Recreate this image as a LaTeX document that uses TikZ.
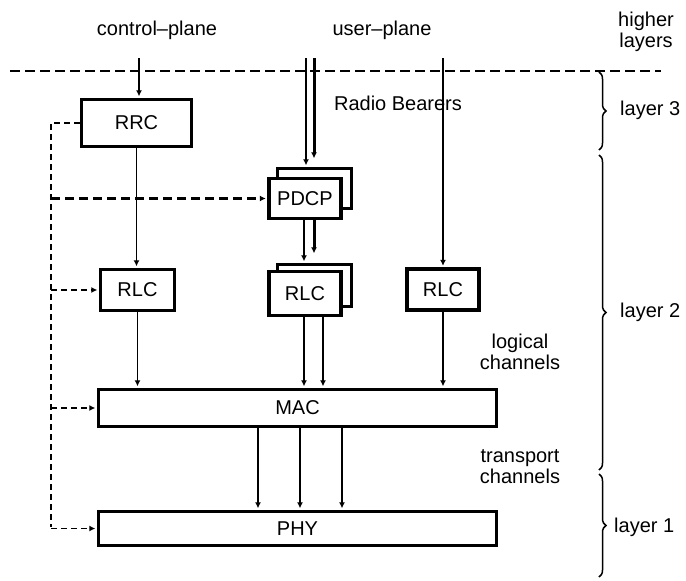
\documentclass[tikz,border=0pt]{standalone}
\usepackage{fontspec}
\setmainfont{Liberation Sans}
\usetikzlibrary{arrows.meta,decorations.pathreplacing,calc}
\begin{document}
\begin{tikzpicture}[x=1pt,y=-1pt,
  txt/.style={font=\fontsize{20}{21}\selectfont},
  box/.style={draw,line width=3.2pt,fill=white,inner sep=0pt,txt},
  lbl/.style={txt,inner sep=0pt,align=center},
  conn/.style={line width=1.7pt,shorten >=1.6pt,-{Latex[length=6pt,width=6pt]}},
  ctl/.style={line width=1.3pt,dash pattern=on 6pt off 4pt,shorten >=1.6pt,-{Latex[length=6pt,width=6pt]}},
  br/.style={decorate,decoration={brace,amplitude=7pt},line width=1.5pt}]
\useasboundingbox (0,0) rectangle (686,581);

% labels
\node[lbl] (cplane) at (157,30) {control–plane};
\node[lbl] (uplane) at (382,30) {user–plane};
\node[lbl] (higher) at (646,32) {higher\\layers};
\node[lbl] (rb) at (398,103) {Radio Bearers};
\node[lbl] (logic) at (520,352) {logical\\channels};
\node[lbl] (trans) at (520,467) {transport\\channels};
\node[lbl,anchor=west] (l3) at (620,110) {layer 3};
\node[lbl,anchor=west] (l2) at (620,312) {layer 2};
\node[lbl,anchor=west] (l1) at (614,527) {layer 1};

% top boundary
\draw[line width=1.5pt,dash pattern=on 10pt off 5pt] (10,71) -- (661,71);

% boxes
\node[box,minimum width=110pt,minimum height=47pt] (rrc) at (136.5,123) {RRC};
\node[box,minimum width=74pt,minimum height=40pt] (pdcpb) at (314.5,188.5) {};
\node[box,minimum width=72pt,minimum height=40pt] (pdcp) at (305,198.5) {PDCP};
\node[box,minimum width=74pt,minimum height=41pt] (rlc1) at (137.5,290) {RLC};
\node[box,minimum width=74pt,minimum height=42pt] (rlc2b) at (314.5,285.5) {};
\node[box,minimum width=72pt,minimum height=44pt] (rlc2) at (305,293.5) {RLC};
\node[box,minimum width=72pt,minimum height=41pt] (rlc3) at (443,289.5) {RLC};
\node[box,minimum width=398pt,minimum height=37pt] (mac) at (297.5,408) {MAC};
\node[box,minimum width=398pt,minimum height=34pt] (phy) at (297.5,528.5) {PHY};

% entry points
\coordinate (cpt) at (139,58);
\coordinate (up1) at (306,58);
\coordinate (up2) at (314,58);
\coordinate (rbt) at (443,58);
\coordinate (cv) at (51,121);

% data flows
\draw[conn] (cpt) -- (cpt |- rrc.north);
\draw[conn,line width=1.3pt] (up1) -- (up1 |- pdcpb.north);
\draw[conn,line width=3pt] (up2) -- ($(up2 |- pdcpb.north)+(0,-7)$);
\draw[conn] (rbt) -- (rbt |- rlc3.north);
\draw[conn] (rrc.south) -- (rrc.south |- rlc1.north);
\draw[conn] (rlc1.south) -- (rlc1.south |- mac.north);
\draw[conn,line width=1.3pt] ($(pdcp.south)+(-1,0)$) -- ($(pdcp.south |- rlc2b.north)+(-1,0)$);
\draw[conn,line width=3pt] ($(pdcp.south)+(9,0)$) -- ($(pdcp.south |- rlc2b.north)+(9,-8)$);
\draw[conn] ($(rlc2.south)+(-1,0)$) -- ($(rlc2.south |- mac.north)+(-1,0)$);
\draw[conn] ($(rlc2.south)+(18,0)$) -- ($(rlc2.south |- mac.north)+(18,0)$);
\draw[conn] (rlc3.south) -- (rlc3.south |- mac.north);
\draw[conn] ($(mac.south)+(-39.5,0)$) -- ($(mac.south |- phy.north)+(-39.5,0)$);
\draw[conn] ($(mac.south)+(2.5,0)$) -- ($(mac.south |- phy.north)+(2.5,0)$);
\draw[conn] ($(mac.south)+(44.5,0)$) -- ($(mac.south |- phy.north)+(44.5,0)$);

% control
\draw[ctl,-] (rrc.west) -- (cv |- rrc.west) -- (cv |- phy.west);
\draw[ctl] (cv |- phy.west) -- (phy.west);
\draw[ctl] (cv |- mac.west) -- (mac.west);
\draw[ctl] (cv |- rlc1.west) -- (rlc1.west);
\draw[ctl,line width=3pt,dash pattern=on 9pt off 5pt] (cv |- pdcp.west) -- (pdcp.west);

% layer braces
\draw[br] (599,72) -- (599,150);
\draw[br] (599,155) -- (599,470);
\draw[br] (599,474) -- (599,577);
\end{tikzpicture}
\end{document}
